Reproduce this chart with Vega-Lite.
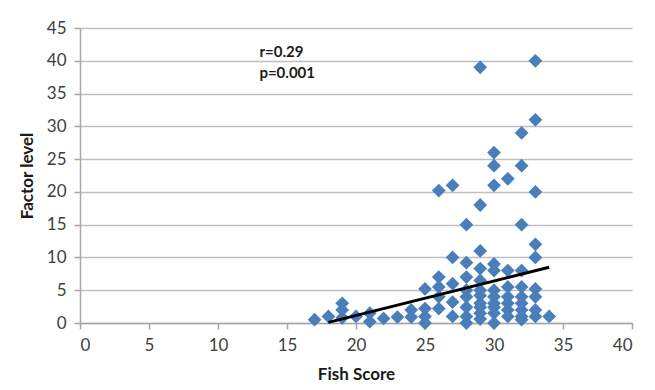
{
  "$schema": "https://vega.github.io/schema/vega-lite/v6.json",
  "width": 552,
  "height": 295,
  "autosize": {"type": "none"},
  "padding": {"left": 80, "top": 28, "right": 23, "bottom": 67},
  "background": "white",
  "config": {
    "view": {"stroke": null},
    "font": "Lato"
  },
  "datasets": {
    "points": [
      {"fish": 17, "factor": 0.5},
      {"fish": 18, "factor": 1},
      {"fish": 19, "factor": 3},
      {"fish": 19, "factor": 2},
      {"fish": 19, "factor": 0.8},
      {"fish": 20, "factor": 1},
      {"fish": 21, "factor": 1.5},
      {"fish": 21, "factor": 0.2},
      {"fish": 22, "factor": 0.7},
      {"fish": 23, "factor": 0.9},
      {"fish": 24, "factor": 2},
      {"fish": 24, "factor": 0.9},
      {"fish": 25, "factor": 5.2},
      {"fish": 25, "factor": 2.2},
      {"fish": 25, "factor": 1},
      {"fish": 25, "factor": 0},
      {"fish": 26, "factor": 20.2},
      {"fish": 26, "factor": 7},
      {"fish": 26, "factor": 5.5},
      {"fish": 26, "factor": 4},
      {"fish": 26, "factor": 2.2},
      {"fish": 27, "factor": 21},
      {"fish": 27, "factor": 10},
      {"fish": 27, "factor": 6},
      {"fish": 27, "factor": 3.2},
      {"fish": 27, "factor": 1},
      {"fish": 28, "factor": 15},
      {"fish": 28, "factor": 9.2},
      {"fish": 28, "factor": 7},
      {"fish": 28, "factor": 5},
      {"fish": 28, "factor": 4},
      {"fish": 28, "factor": 2.4},
      {"fish": 28, "factor": 1},
      {"fish": 28, "factor": 0},
      {"fish": 29, "factor": 39},
      {"fish": 29, "factor": 18},
      {"fish": 29, "factor": 11},
      {"fish": 29, "factor": 8.3},
      {"fish": 29, "factor": 6.5},
      {"fish": 29, "factor": 5},
      {"fish": 29, "factor": 4.2},
      {"fish": 29, "factor": 3},
      {"fish": 29, "factor": 2.4},
      {"fish": 29, "factor": 1.5},
      {"fish": 29, "factor": 0.6},
      {"fish": 30, "factor": 26},
      {"fish": 30, "factor": 24},
      {"fish": 30, "factor": 21},
      {"fish": 30, "factor": 9},
      {"fish": 30, "factor": 8},
      {"fish": 30, "factor": 5},
      {"fish": 30, "factor": 4},
      {"fish": 30, "factor": 3},
      {"fish": 30, "factor": 2.4},
      {"fish": 30, "factor": 1.5},
      {"fish": 30, "factor": 0},
      {"fish": 31, "factor": 22},
      {"fish": 31, "factor": 8},
      {"fish": 31, "factor": 5.5},
      {"fish": 31, "factor": 4},
      {"fish": 31, "factor": 3},
      {"fish": 31, "factor": 2},
      {"fish": 31, "factor": 1},
      {"fish": 32, "factor": 29},
      {"fish": 32, "factor": 24},
      {"fish": 32, "factor": 15},
      {"fish": 32, "factor": 8},
      {"fish": 32, "factor": 5.5},
      {"fish": 32, "factor": 4},
      {"fish": 32, "factor": 3},
      {"fish": 32, "factor": 2},
      {"fish": 32, "factor": 1},
      {"fish": 32, "factor": 0.5},
      {"fish": 33, "factor": 40},
      {"fish": 33, "factor": 31},
      {"fish": 33, "factor": 20},
      {"fish": 33, "factor": 12},
      {"fish": 33, "factor": 10},
      {"fish": 33, "factor": 5.2},
      {"fish": 33, "factor": 4},
      {"fish": 33, "factor": 2},
      {"fish": 33, "factor": 1},
      {"fish": 34, "factor": 1}
    ],
    "trend": [
      {"fish": 18, "factor": 0.1},
      {"fish": 34, "factor": 8.5}
    ],
    "notes": [
      {"fish": 13, "factor": 41.4, "label": "r=0.29"},
      {"fish": 13, "factor": 38.2, "label": "p=0.001"}
    ]
  },
  "encoding": {
    "x": {
      "field": "fish", "type": "quantitative", "title": "Fish Score",
      "scale": {"domain": [0, 40], "nice": false, "zero": false},
      "axis": {
        "values": [0, 5, 10, 15, 20, 25, 30, 35, 40], "grid": false,
        "labelFont": "Lato", "labelFontSize": 17, "labelColor": "#404040", "labelOverlap": false,
        "labelPadding": 8, "titlePadding": 13,
        "titleFont": "Lato", "titleFontSize": 17, "titleFontWeight": "bold", "titleColor": "#1a1a1a",
        "domainColor": "#a6a6a6", "domainWidth": 1.5, "tickColor": "#a6a6a6", "tickWidth": 1.5, "tickSize": 6
      }
    },
    "y": {
      "field": "factor", "type": "quantitative", "title": "Factor level",
      "scale": {"domain": [0, 45], "nice": false},
      "axis": {
        "values": [0, 5, 10, 15, 20, 25, 30, 35, 40, 45], "grid": true,
        "gridColor": "#bfbfbf", "gridWidth": 1.5,
        "labelFont": "Lato", "labelFontSize": 17, "labelColor": "#404040", "labelOverlap": false,
        "labelPadding": 8, "titlePadding": 10,
        "titleFont": "Lato", "titleFontSize": 17, "titleFontWeight": "bold", "titleColor": "#1a1a1a",
        "domainColor": "#a6a6a6", "domainWidth": 1.5, "tickColor": "#a6a6a6", "tickWidth": 1.5, "tickSize": 6
      }
    }
  },
  "layer": [
    {
      "data": {"name": "points"},
      "mark": {"type": "point", "shape": "diamond", "filled": true, "size": 190, "color": "#4a7ebb", "opacity": 1}
    },
    {
      "data": {"name": "trend"},
      "mark": {"type": "line", "color": "black", "strokeWidth": 3}
    },
    {
      "data": {"name": "notes"},
      "mark": {"type": "text", "align": "left", "baseline": "middle", "font": "Lato", "fontSize": 15, "fontWeight": "bold", "color": "#1a1a1a"},
      "encoding": {
        "text": {"field": "label", "type": "nominal"}
      }
    }
  ]
}
